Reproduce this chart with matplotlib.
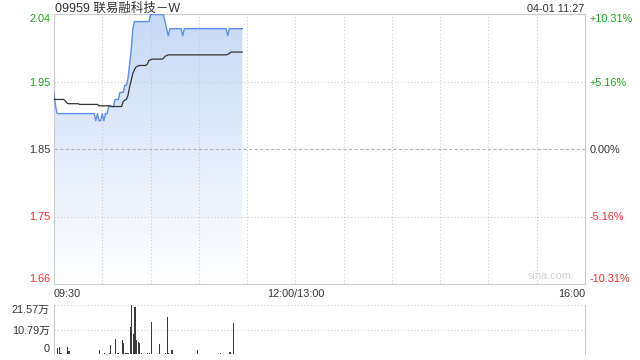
import matplotlib
matplotlib.use("Agg")
import matplotlib.pyplot as plt
import numpy as np
from matplotlib.colors import LinearSegmentedColormap

plt.rcParams["font.family"] = ["Liberation Sans", "Noto Sans CJK SC", "DejaVu Sans"]

TITLE = "09959 联易融科技－W"
STAMP = "04-01 11:27"
PREV_CLOSE = 1.85
PCT_MAX = 0.1031

PRICE_LABELS = ["1.66", "1.75", "1.85", "1.95", "2.04"]
PCT_LABELS = ["-10.31%", "-5.16%", "0.00%", "+5.16%", "+10.31%"]
LABEL_COLORS = ["#e8312f", "#e8312f", "#333333", "#1ea51e", "#1ea51e"]

TIME_TICKS = [0, 150, 330]          # minutes from 09:30, lunch removed
TIME_LABELS = ["09:30", "12:00/13:00", "16:00"]
VOL_LABELS = ["0", "10.79万", "21.57万"]
VOL_MAX = 215700

# one value per minute, 09:30 .. 11:27
price = [
    1.93, 1.91, 1.90, 1.90, 1.90, 1.90, 1.90, 1.90, 1.90, 1.90,
    1.90, 1.90, 1.90, 1.90, 1.90, 1.90, 1.90, 1.90, 1.90, 1.90,
    1.90, 1.90, 1.90, 1.90, 1.90, 1.90, 1.89, 1.90, 1.89, 1.89,
    1.90, 1.89, 1.90, 1.90, 1.91, 1.91, 1.91, 1.91, 1.92, 1.92,
    1.92, 1.93, 1.93, 1.93, 1.94, 1.94, 1.95, 1.97, 1.99, 2.02,
    2.03, 2.03, 2.03, 2.03, 2.03, 2.03, 2.03, 2.03, 2.03, 2.03,
    2.04, 2.04, 2.04, 2.04, 2.04, 2.04, 2.04, 2.04, 2.04, 2.03,
    2.02, 2.01, 2.02, 2.02, 2.02, 2.02, 2.02, 2.02, 2.02, 2.02,
    2.01, 2.02, 2.02, 2.02, 2.02, 2.02, 2.02, 2.02, 2.02, 2.02,
    2.02, 2.02, 2.02, 2.02, 2.02, 2.02, 2.02, 2.02, 2.02, 2.02,
    2.02, 2.02, 2.02, 2.02, 2.02, 2.02, 2.02, 2.02, 2.01, 2.02,
    2.02, 2.02, 2.02, 2.02, 2.02, 2.02, 2.02, 2.02,
]
avg_price = [
    1.920, 1.920, 1.920, 1.920, 1.920, 1.920, 1.920, 1.918, 1.915, 1.914,
    1.914, 1.914, 1.914, 1.914, 1.914, 1.914, 1.913, 1.913, 1.913, 1.913,
    1.913, 1.913, 1.913, 1.913, 1.913, 1.913, 1.913, 1.913, 1.911, 1.911,
    1.911, 1.911, 1.911, 1.911, 1.911, 1.911, 1.910, 1.910, 1.910, 1.910,
    1.910, 1.910, 1.910, 1.917, 1.919, 1.920, 1.926, 1.938, 1.947, 1.957,
    1.962, 1.966, 1.967, 1.968, 1.968, 1.968, 1.968, 1.968, 1.970, 1.975,
    1.976, 1.977, 1.977, 1.977, 1.977, 1.977, 1.977, 1.977, 1.978, 1.981,
    1.982, 1.983, 1.983, 1.983, 1.983, 1.983, 1.983, 1.983, 1.983, 1.983,
    1.983, 1.983, 1.983, 1.983, 1.983, 1.983, 1.983, 1.983, 1.983, 1.983,
    1.983, 1.983, 1.983, 1.983, 1.983, 1.983, 1.983, 1.983, 1.983, 1.983,
    1.983, 1.983, 1.983, 1.983, 1.983, 1.983, 1.983, 1.983, 1.984, 1.985,
    1.987, 1.987, 1.987, 1.987, 1.987, 1.987, 1.987, 1.987,
]
volume = [
    45000, 3000, 29000, 32000, 4000, 3000, 2000, 3000, 32000, 15000,
    3000, 2000, 3000, 2000, 2000, 3000, 2000, 3000, 2000, 2000,
    3000, 2000, 2000, 3000, 2000, 3000, 2000, 2000, 19000, 3000,
    2000, 4000, 2000, 3000, 5000, 42000, 3000, 2000, 67000, 4000,
    5000, 3000, 63000, 51000, 4000, 6000, 5000, 121000, 215700, 90000,
    208000, 63000, 55000, 51000, 4000, 3000, 2000, 3000, 7000, 4000,
    143000, 3000, 2000, 3000, 2000, 47000, 3000, 2000, 3000, 4000,
    165000, 7000, 3000, 19000, 3000, 2000, 3000, 2000, 2000, 3000,
    2000, 2000, 3000, 2000, 2000, 3000, 2000, 3000, 2000, 19000,
    3000, 2000, 3000, 2000, 2000, 3000, 2000, 2000, 3000, 2000,
    2000, 3000, 2000, 7000, 3000, 2000, 2000, 3000, 2000, 12000,
    3000, 138000, 3000, 2000, 3000, 2000, 2000, 3000,
]

GRID = "#cccccc"
DOT = (0, (1, 2))
W, H = 640, 360


def main():
    fig = plt.figure(figsize=(6.4, 3.6), dpi=100)
    ax = fig.add_axes([54 / W, 1 - 284 / H, 531 / W, 270 / H])
    axv = fig.add_axes([54 / W, 1 - 354.3 / H, 531 / W, 49.3 / H])

    minutes = np.arange(len(price))
    half = PREV_CLOSE * PCT_MAX
    ymin, ymax = PREV_CLOSE - half, PREV_CLOSE + half
    yticks = [PREV_CLOSE + k * half / 2 for k in (-2, -1, 0, 1, 2)]

    # gradient fill under the price line
    poly = ax.fill_between(minutes, price, ymin, color="none", lw=0)
    cmap = LinearSegmentedColormap.from_list("fade", ["#ffffff", "#c6d9f6"])
    grad = np.linspace(0, 1, 256).reshape(-1, 1)
    im = ax.imshow(grad, extent=[0, minutes[-1], ymin, ymax], origin="lower",
                   aspect="auto", cmap=cmap, zorder=1)
    im.set_clip_path(poly.get_paths()[0], transform=ax.transData)

    ax.plot(minutes, price, color="#5b8fe8", lw=1.0, zorder=4)
    ax.plot(minutes, avg_price, color="#333333", lw=0.9, zorder=4)

    for t in range(30, 330, 30):
        ax.axvline(t, color=GRID, lw=0.8, ls=DOT, zorder=2)
    ax.axhline(yticks[1], color=GRID, lw=0.8, ls=DOT, zorder=2)
    ax.axhline(yticks[3], color=GRID, lw=0.8, ls=DOT, zorder=2)
    ax.axhline(yticks[2], color="#b5b5b5", lw=0.8, ls=(0, (3, 2)), zorder=2)

    ax.set_xlim(0, 330)
    ax.set_ylim(ymin, ymax)
    for s in ax.spines.values():
        s.set_color(GRID)
        s.set_linewidth(0.8)

    ax.set_yticks(yticks)
    ax.set_yticklabels(PRICE_LABELS, fontsize=7.8)
    ax.tick_params(axis="y", length=0, pad=2.5)
    for lab, c in zip(ax.get_yticklabels(), LABEL_COLORS):
        lab.set_color(c)
    ax.get_yticklabels()[0].set_va("bottom")
    ax.get_yticklabels()[-1].set_va("top")

    axr = ax.twinx()
    axr.set_ylim(ymin, ymax)
    axr.set_yticks(yticks)
    axr.set_yticklabels(PCT_LABELS, fontsize=7.8)
    axr.tick_params(axis="y", length=0, pad=3.5)
    for lab, c in zip(axr.get_yticklabels(), LABEL_COLORS):
        lab.set_color(c)
    axr.get_yticklabels()[0].set_va("bottom")
    axr.get_yticklabels()[-1].set_va("top")
    for s in axr.spines.values():
        s.set_visible(False)

    ax.set_xticks(TIME_TICKS)
    ax.set_xticklabels(TIME_LABELS, fontsize=7.8, color="#333333")
    ax.tick_params(axis="x", length=0, pad=3.5)
    xl = ax.get_xticklabels()
    xl[0].set_ha("left")
    xl[-1].set_ha("right")

    ax.text(0.975, 0.012, "sina.com", transform=ax.transAxes, ha="right",
            va="bottom", fontsize=7.8, color="#cfcfcf")

    # volume panel
    axv.bar(minutes, volume, width=0.7, align="edge", color="#3c3c3c", lw=0)
    axv.set_xlim(0, 330)
    axv.set_ylim(0, VOL_MAX)
    for v in (0, VOL_MAX / 2, VOL_MAX):
        axv.axhline(v, color=GRID, lw=0.8, ls=DOT, zorder=0)
    for k in ("top", "bottom"):
        axv.spines[k].set_visible(False)
    for k in ("left", "right"):
        axv.spines[k].set_color(GRID)
        axv.spines[k].set_linewidth(0.8)
    axv.set_xticks([])
    axv.set_yticks([0, VOL_MAX / 2, VOL_MAX])
    axv.set_yticklabels(VOL_LABELS, fontsize=7.8, color="#333333")
    axv.tick_params(axis="y", length=0, pad=3)
    axv.get_yticklabels()[0].set_va("bottom")
    axv.get_yticklabels()[-1].set_va("top")

    fig.text(55 / W, 1 - 11.5 / H, TITLE, fontsize=9, color="#333333",
             va="baseline", ha="left")
    fig.text(584 / W, 1 - 11.5 / H, STAMP, fontsize=7.8, color="#333333",
             va="baseline", ha="right")

    fig.savefig("out.png", dpi=100)


if __name__ == "__main__":
    main()
